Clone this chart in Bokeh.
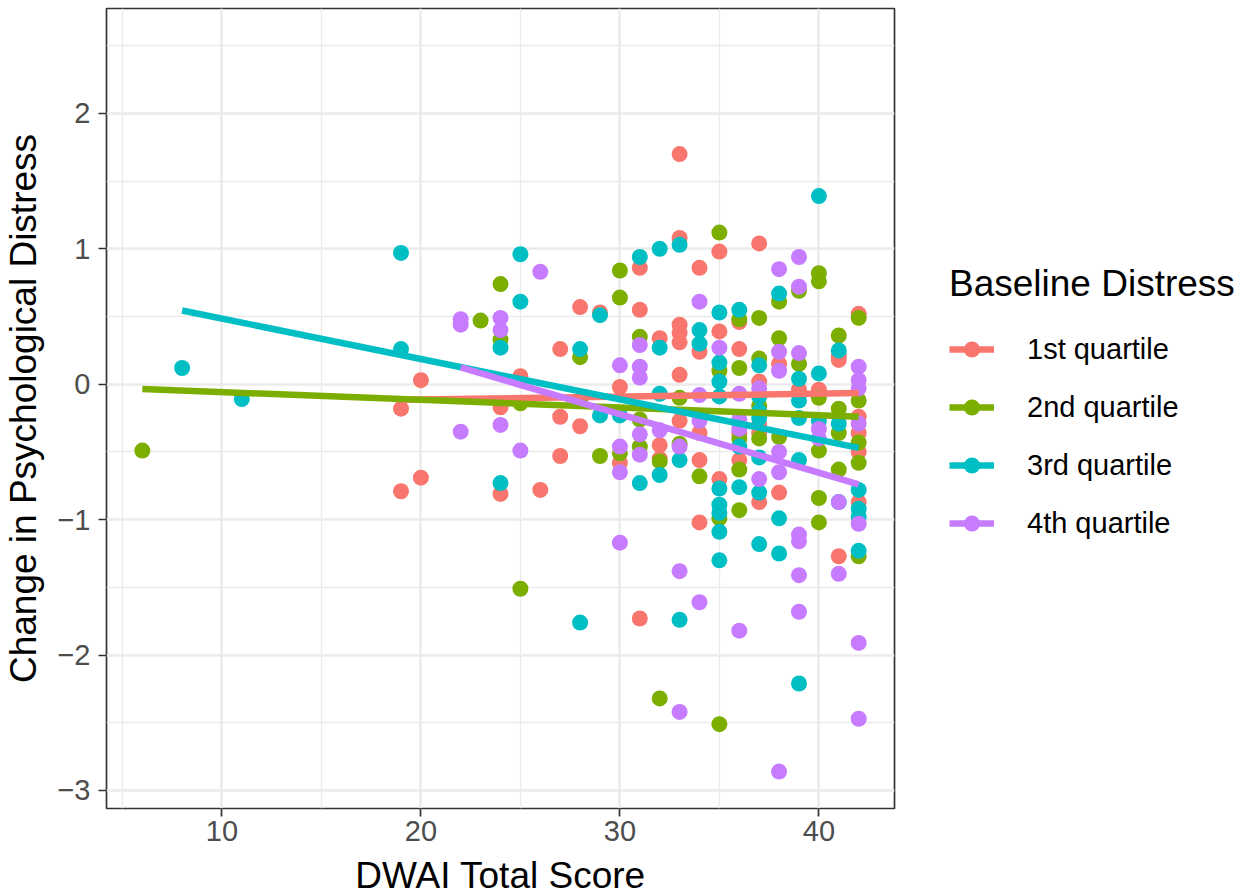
from bokeh.plotting import figure
from bokeh.layouts import row
from bokeh.models import FixedTicker, CustomJSTickFormatter, Legend, LegendItem
from bokeh.embed import file_html
from bokeh.resources import INLINE

groups = ["1st quartile", "2nd quartile", "3rd quartile", "4th quartile"]
colors = ["#F8766D", "#7CAE00", "#00BFC4", "#C77CFF"]

# 1st quartile
q1_x = [19, 19, 20, 20, 24, 24, 25, 26, 27, 27, 27, 28, 28, 29, 30, 30, 31, 31, 31,
        32, 32, 32, 33, 33, 33, 33, 33, 33, 33, 34, 34, 34, 34, 34, 35, 35, 35,
        36, 36, 36, 36, 37, 37, 37, 37, 37, 38, 38, 39, 40, 41, 41, 41,
        42, 42, 42, 42, 42]
q1_y = [-0.18, -0.79, 0.03, -0.69, -0.17, -0.81, 0.06, -0.78, 0.26, -0.24, -0.53, 0.57, -0.31, 0.53, -0.02, -0.58, 0.86, 0.55, -1.73,
        0.34, -0.45, -0.55, 1.70, 1.08, 0.44, 0.38, 0.31, 0.07, -0.27, 0.86, 0.24, -0.36, -0.56, -1.02, 0.98, 0.39, -0.70,
        0.46, 0.26, -0.36, -0.56, 1.04, 0.02, -0.30, -0.36, -0.87, 0.15, -0.80, -0.04, -0.04, 0.21, 0.18, -1.27,
        0.52, -0.24, -0.36, -0.50, -0.87]

# 2nd quartile
q2_x = [6, 23, 24, 24, 25, 25, 28, 28, 29, 30, 30, 30, 31, 31, 31,
        32, 32, 33, 33, 34, 35, 35, 35, 35, 36, 36, 36, 36, 36,
        37, 37, 37, 37, 38, 38, 38, 39, 39, 40, 40, 40, 40, 40, 40,
        41, 41, 41, 41, 42, 42, 42, 42, 42]
q2_y = [-0.49, 0.47, 0.74, 0.33, -0.14, -1.51, 0.20, -0.12, -0.53, 0.84, 0.64, -0.51, 0.35, -0.26, -0.46,
        -0.57, -2.32, -0.10, -0.44, -0.68, 1.12, 0.10, -0.99, -2.51, 0.48, 0.12, -0.40, -0.63, -0.93,
        0.49, 0.19, -0.16, -0.40, 0.61, 0.34, -0.39, 0.69, 0.15, 0.82, 0.76, -0.10, -0.49, -0.84, -1.02,
        0.36, -0.18, -0.36, -0.63, 0.49, -0.12, -0.43, -0.58, -1.27]

# 3rd quartile
q3_x = [8, 11, 19, 19, 24, 24, 25, 25, 28, 28, 29, 29, 30, 31, 31,
        32, 32, 32, 32, 33, 33, 33, 34, 34, 35, 35, 35, 35, 35, 35, 35, 35, 35,
        36, 36, 36, 37, 37, 37, 37, 37, 37, 37, 38, 38, 38,
        39, 39, 39, 39, 39, 40, 40, 40, 41, 41, 41, 42, 42, 42, 42]
q3_y = [0.12, -0.11, 0.97, 0.26, 0.27, -0.73, 0.96, 0.61, 0.26, -1.76, 0.51, -0.23, -0.23, 0.94, -0.73,
        1.00, 0.27, -0.07, -0.67, 1.03, -0.56, -1.74, 0.40, 0.30, 0.53, 0.16, 0.02, -0.09, -0.77, -0.89, -0.95, -1.09, -1.30,
        0.55, -0.46, -0.76, 0.14, -0.09, -0.20, -0.25, -0.54, -0.80, -1.18, 0.67, -0.99, -1.25,
        0.04, -0.12, -0.25, -0.56, -2.21, 1.39, 0.08, -0.27, 0.25, -0.29, -0.87, -0.78, -0.92, -0.98, -1.23]

# 4th quartile
q4_x = [22, 22, 22, 24, 24, 24, 25, 26, 30, 30, 30, 30, 31, 31, 31, 31, 31,
        32, 33, 33, 33, 34, 34, 34, 34, 35, 36, 36, 36, 36, 37, 37,
        38, 38, 38, 38, 38, 38, 39, 39, 39, 39, 39, 39, 39, 40, 40, 41, 41,
        42, 42, 42, 42, 42, 42, 42]
q4_y = [0.48, 0.44, -0.35, 0.49, 0.40, -0.30, -0.49, 0.83, 0.14, -0.46, -0.65, -1.17, 0.29, 0.13, 0.05, -0.37, -0.52,
        -0.34, -0.46, -1.38, -2.42, 0.61, -0.08, -0.27, -1.61, 0.27, -0.07, -0.26, -0.33, -1.82, -0.03, -0.70,
        0.85, 0.24, 0.10, -0.50, -0.65, -2.86, 0.94, 0.72, 0.23, -1.11, -1.16, -1.41, -1.68, -0.33, -0.40, -0.87, -1.40,
        0.13, 0.03, -0.03, -0.29, -1.03, -1.91, -2.47]

# linear fit lines: start/end x and y
q1_fit_x, q1_fit_y = [19, 42], [-0.115, -0.065]
q2_fit_x, q2_fit_y = [6, 42], [-0.035, -0.24]
q3_fit_x, q3_fit_y = [8, 42], [0.545, -0.47]
q4_fit_x, q4_fit_y = [22, 42], [0.125, -0.74]

x_ticks = [10, 20, 30, 40]
x_minor = [5, 15, 25, 35]
y_ticks = [-3, -2, -1, 0, 1, 2]
y_minor = [-2.5, -1.5, -0.5, 0.5, 1.5, 2.5]

FONT = "Liberation Sans"
H = 893

p = figure(frame_width=788, frame_height=800, x_range=(4.2, 43.8), y_range=(-3.133, 2.775),
           output_backend="svg", toolbar_location=None,
           min_border_left=97, min_border_top=8, min_border_bottom=85, min_border_right=2)
p.background_fill_color = "white"
p.border_fill_color = "white"
p.outline_line_color = "#333333"
p.outline_line_width = 1.7

xt = FixedTicker(ticks=x_ticks, minor_ticks=x_minor)
yt = FixedTicker(ticks=y_ticks, minor_ticks=y_minor)
p.xaxis.ticker = xt
p.yaxis.ticker = yt
p.xgrid.ticker = xt
p.ygrid.ticker = yt
for g in (p.xgrid, p.ygrid):
    g.grid_line_color = "#EBEBEB"
    g.grid_line_width = 2.6
    g.minor_grid_line_color = "#EBEBEB"
    g.minor_grid_line_width = 1.3

p.yaxis.formatter = CustomJSTickFormatter(code="return tick < 0 ? '\u2212' + Math.abs(tick) : String(tick);")

for ax in (p.xaxis, p.yaxis):
    ax.axis_line_color = None
    ax.major_tick_line_color = "#333333"
    ax.major_tick_line_width = 1.7
    ax.major_tick_out = 8
    ax.major_tick_in = 0
    ax.minor_tick_line_color = None
    ax.major_label_text_font = FONT
    ax.major_label_text_font_size = "29px"
    ax.major_label_text_color = "#4D4D4D"
    ax.axis_label_text_font = FONT
    ax.axis_label_text_font_size = "37px"
    ax.axis_label_text_font_style = "normal"
    ax.axis_label_text_color = "black"

p.xaxis.axis_label = "DWAI Total Score"
p.yaxis.axis_label = "Change in Psychological Distress"
p.xaxis.major_label_standoff = 4
p.xaxis.axis_label_standoff = 11
p.yaxis.major_label_standoff = 8
p.yaxis.axis_label_standoff = 10

xs = [q1_x, q2_x, q3_x, q4_x]
ys = [q1_y, q2_y, q3_y, q4_y]
fxs = [q1_fit_x, q2_fit_x, q3_fit_x, q4_fit_x]
fys = [q1_fit_y, q2_fit_y, q3_fit_y, q4_fit_y]

for x, y, c in zip(xs, ys, colors):
    p.scatter(x, y, size=16, marker="circle", fill_color=c, line_color=None)
for x, y, c in zip(fxs, fys, colors):
    p.line(x, y, line_width=6.5, line_color=c)

# legend panel: a separate blank figure holding a real Legend.
# Its renderers reuse the fit data, which lies outside this panel's view.
lp = figure(width=340, height=H, x_range=(0, 1), y_range=(0, 1),
            output_backend="svg", toolbar_location=None,
            min_border=0, min_border_left=0, min_border_right=0, min_border_top=0, min_border_bottom=0)
lp.axis.visible = False
lp.grid.visible = False
lp.outline_line_color = None
lp.background_fill_color = "white"
lp.border_fill_color = "white"

items = []
for g, c, fx, fy in zip(groups, colors, fxs, fys):
    lr = lp.line(fx, fy, line_width=6.5, line_color=c)
    sr = lp.scatter(fx, fy, size=16, marker="circle", fill_color=c, line_color=None)
    items.append(LegendItem(label=g, renderers=[lr, sr]))

legend = Legend(items=items, title="Baseline Distress", location=(53, 260))
legend.title_text_font = FONT
legend.title_text_font_size = "37px"
legend.title_text_font_style = "normal"
legend.title_text_color = "black"
legend.title_standoff = 24
legend.label_text_font = FONT
legend.label_text_font_size = "29px"
legend.label_text_color = "black"
legend.glyph_width = 45
legend.glyph_height = 40
legend.label_standoff = 33
legend.spacing = 18
legend.padding = 5
legend.margin = 0
legend.border_line_color = None
legend.background_fill_alpha = 0
lp.add_layout(legend, "center")

layout = row(p, lp)
open("out.html", "w").write(file_html(layout, INLINE))
